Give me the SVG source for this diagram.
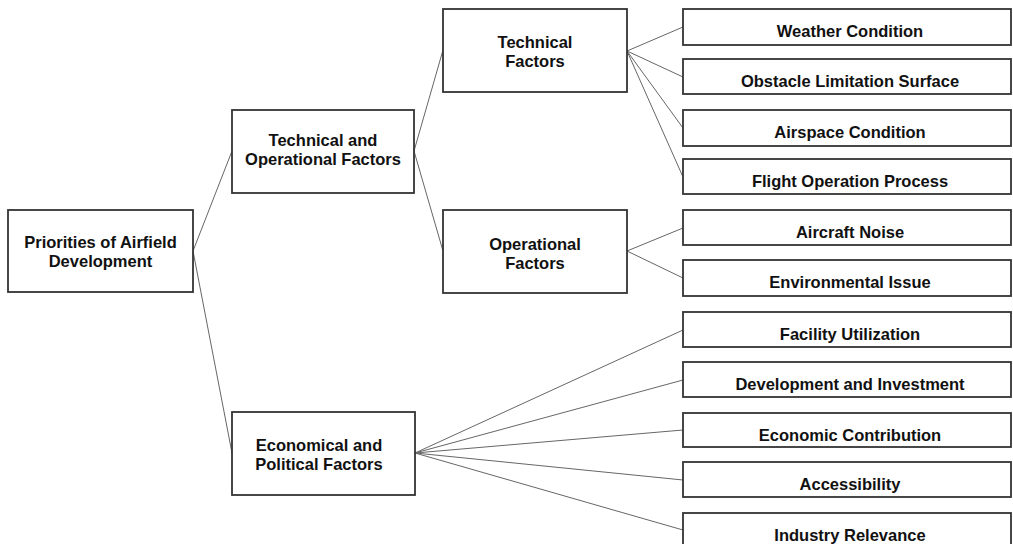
<svg xmlns="http://www.w3.org/2000/svg" width="1013" height="544" viewBox="0 0 1013 544">
<style>
.box{fill:#fff;stroke:#333;stroke-width:1.8}
.t{font-family:"Liberation Sans",Arial,sans-serif;font-weight:bold;font-size:16.5px;fill:#111;text-anchor:middle}
.c line{stroke:#666;stroke-width:1}
</style>
<rect width="1013" height="544" fill="#fff"/>
<g class="c" id="connectors">
<line x1="193" y1="251" x2="232" y2="151"/>
<line x1="193" y1="251" x2="232" y2="453"/>
<line x1="414" y1="151" x2="443" y2="50"/>
<line x1="414" y1="151" x2="443" y2="251"/>
<line x1="627" y1="51" x2="683" y2="27"/>
<line x1="627" y1="51" x2="683" y2="77"/>
<line x1="627" y1="51" x2="683" y2="128"/>
<line x1="627" y1="51" x2="683" y2="177"/>
<line x1="627" y1="251" x2="683" y2="228"/>
<line x1="627" y1="251" x2="683" y2="278"/>
<line x1="415" y1="453" x2="683" y2="330"/>
<line x1="415" y1="453" x2="683" y2="380"/>
<line x1="415" y1="453" x2="683" y2="430"/>
<line x1="415" y1="453" x2="683" y2="480"/>
<line x1="415" y1="453" x2="683" y2="530"/>
</g>
<g id="root"><rect class="box" x="8" y="210" width="185" height="82"/>
<text class="t" x="100.5" y="248">Priorities of Airfield</text><text class="t" x="100.5" y="267">Development</text></g>
<g id="techop"><rect class="box" x="232" y="110" width="182" height="83"/>
<text class="t" x="323" y="146">Technical and</text><text class="t" x="323" y="165">Operational Factors</text></g>
<g id="econ"><rect class="box" x="232" y="412" width="183" height="83"/>
<text class="t" x="319" y="451">Economical and</text><text class="t" x="319" y="470">Political Factors</text></g>
<g id="tech"><rect class="box" x="443" y="9" width="184" height="83"/>
<text class="t" x="535" y="48">Technical</text><text class="t" x="535" y="67">Factors</text></g>
<g id="oper"><rect class="box" x="443" y="210" width="184" height="83"/>
<text class="t" x="535" y="250">Operational</text><text class="t" x="535" y="269">Factors</text></g>
<g id="weather"><rect class="box" x="683" y="9" width="328" height="36"/><text class="t" x="850" y="37">Weather Condition</text></g>
<g id="obstacle"><rect class="box" x="683" y="59" width="328" height="35"/><text class="t" x="850" y="87">Obstacle Limitation Surface</text></g>
<g id="airspace"><rect class="box" x="683" y="110" width="328" height="36"/><text class="t" x="850" y="138">Airspace Condition</text></g>
<g id="flight"><rect class="box" x="683" y="159" width="328" height="35"/><text class="t" x="850" y="187">Flight Operation Process</text></g>
<g id="noise"><rect class="box" x="683" y="210" width="328" height="35"/><text class="t" x="850" y="238">Aircraft Noise</text></g>
<g id="env"><rect class="box" x="683" y="260" width="328" height="36"/><text class="t" x="850" y="288">Environmental Issue</text></g>
<g id="facility"><rect class="box" x="683" y="312" width="328" height="35"/><text class="t" x="850" y="340">Facility Utilization</text></g>
<g id="devinv"><rect class="box" x="683" y="362" width="328" height="35"/><text class="t" x="850" y="390">Development and Investment</text></g>
<g id="econcontrib"><rect class="box" x="683" y="413" width="328" height="34"/><text class="t" x="850" y="441">Economic Contribution</text></g>
<g id="access"><rect class="box" x="683" y="462" width="328" height="35"/><text class="t" x="850" y="490">Accessibility</text></g>
<g id="industry"><rect class="box" x="683" y="513" width="328" height="36"/><text class="t" x="850" y="541">Industry Relevance</text></g>
</svg>
